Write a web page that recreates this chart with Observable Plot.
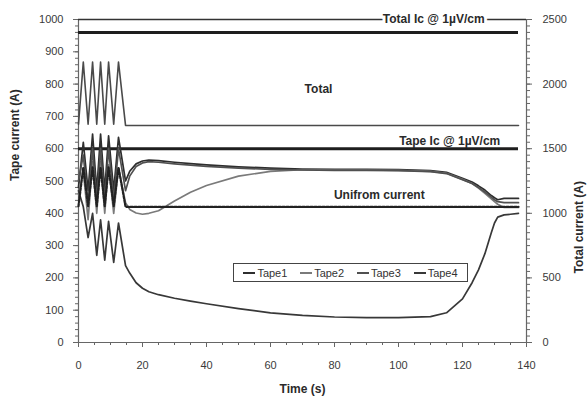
<!DOCTYPE html>
<html>
<head>
<meta charset="utf-8">
<script src="https://cdn.jsdelivr.net/npm/d3@7"></script>
<script src="https://cdn.jsdelivr.net/npm/@observablehq/plot@0.6"></script>
<style>
  html, body { margin: 0; padding: 0; background: #fff; }
  #wrap { position: relative; width: 587px; height: 398px; font-family: "Liberation Sans", Arial, sans-serif; }
  #legend {
    position: absolute; left: 233px; top: 263px; width: 235px; height: 19px;
    border: 1px solid #444; background: #fff; display: flex; align-items: center;
    justify-content: space-around; font-size: 11px; color: #333; box-sizing: border-box; padding: 0 3px;
  }
  #legend span.item { display: flex; align-items: center; }
  #legend span.sw { display: inline-block; width: 12px; height: 0; border-top: 2px solid #333; margin-right: 2px; }
</style>
</head>
<body>
<div id="wrap"></div>
<script>
// Time base (s)
const time = [0, 1.5, 3, 4.4, 5.7, 6.9, 8.2, 9.4, 11, 12.5,
  14.7, 16, 18, 20, 22, 25, 30, 35, 40, 50,
  60, 70, 80, 90, 100, 110, 115, 120, 123, 125,
  127, 129, 130, 131, 133, 135, 137.5];

// Individual tape currents (A, left axis)
const tape1 = [480, 620, 470, 645, 470, 645, 470, 640, 470, 635,
  500, 530, 553, 562, 565, 563, 558, 554, 550, 544,
  540, 537, 536, 536, 535, 532, 527, 508, 497, 485,
  472, 455, 448, 442, 446, 446, 446];
const tape2 = [460, 530, 380, 560, 400, 560, 400, 550, 400, 540,
  433, 412, 401, 397, 400, 408, 438, 465, 486, 515,
  530, 535, 534, 534, 533, 530, 524, 505, 492, 478,
  462, 445, 436, 428, 418, 418, 418];
const tape3 = [500, 580, 430, 600, 440, 600, 440, 600, 440, 600,
  470, 515, 545, 556, 560, 558, 553, 549, 545, 540,
  536, 534, 533, 533, 532, 529, 523, 504, 492, 480,
  466, 450, 442, 436, 433, 433, 433];
const tape4 = [470, 420, 325, 400, 270, 380, 255, 375, 248, 370,
  238, 215, 185, 168, 157, 148, 137, 128, 120, 105,
  92, 84, 79, 77, 77, 80, 92, 135, 185, 225,
  275, 340, 370, 388, 395, 397, 400];

// Total current (A, right axis)
const total = [1690, 2170, 1690, 2170, 1690, 2170, 1690, 2170, 1690, 2170,
  1680, 1680, 1680, 1680, 1680, 1680, 1680, 1680, 1680, 1680,
  1680, 1680, 1680, 1680, 1680, 1680, 1680, 1680, 1680, 1680,
  1680, 1680, 1680, 1680, 1680, 1680, 1680];

// Uniform share of the total per tape (A, left axis)
const uniform = [422, 542, 422, 542, 422, 542, 422, 542, 422, 542,
  420, 420, 420, 420, 420, 420, 420, 420, 420, 420,
  420, 420, 420, 420, 420, 420, 420, 420, 420, 420,
  420, 420, 420, 420, 420, 420, 420];

// Critical currents
const tapeIc = 600;    // A, left axis
const totalIc = 2400;  // A, right axis

// Axis ticks
const xTicks = [0, 20, 40, 60, 80, 100, 120, 140];
const leftTicks = [0, 100, 200, 300, 400, 500, 600, 700, 800, 900, 1000];
const rightTicks = [0, 500, 1000, 1500, 2000, 2500];

const seriesNames = ["Tape1", "Tape2", "Tape3", "Tape4"];
const seriesValues = [tape1, tape2, tape3, tape4];
const seriesColors = ["#2e2e2e", "#7a7a7a", "#505050", "#383838"];

// Right axis maps onto the left scale: 2500 A ↔ 1000 A
const ratio = 2.5;

const rows = seriesNames.flatMap((name, k) =>
  time.map((t, i) => ({name, t, v: seriesValues[k][i]})));
const totalRows = time.map((t, i) => ({t, v: total[i] / ratio}));
const uniformRows = time.map((t, i) => ({t, v: uniform[i]}));
const tEnd = time[time.length - 1];

const notes = [
  {text: "Total Ic @ 1µV/cm", t: 111, v: 1000},
  {text: "Total", t: 75, v: 783},
  {text: "Tape Ic @ 1µV/cm", t: 116, v: 622},
  {text: "Unifrom current", t: 94, v: 455}
];

const plain = d => String(Math.round(d));

const chart = Plot.plot({
  width: 587,
  height: 398,
  marginLeft: 78,
  marginRight: 61,
  marginTop: 19,
  marginBottom: 56,
  x: {domain: [0, 140], label: null},
  y: {domain: [0, 1000], label: null},
  style: {fontFamily: "'Liberation Sans', Arial, sans-serif", fontSize: "11px", color: "#3a3a3a", background: "white"},
  marks: [
    // minor ticks
    Plot.axisX({ticks: d3.range(0, 141, 5), tickSize: 3, text: null, label: null, stroke: "#666"}),
    Plot.axisY({anchor: "left", ticks: d3.range(0, 1001, 20), tickSize: 3, text: null, label: null, stroke: "#666"}),
    Plot.axisY({anchor: "right", ticks: d3.range(0, 1001, 20), tickSize: 3, text: null, label: null, stroke: "#666"}),
    // major ticks and labels
    Plot.axisX({ticks: xTicks, tickSize: 5, tickPadding: 14, tickFormat: plain, label: null, stroke: "#666"}),
    Plot.axisY({anchor: "left", ticks: leftTicks, tickSize: 5, tickPadding: 10, tickFormat: plain, label: null, stroke: "#666"}),
    Plot.axisY({anchor: "right", ticks: rightTicks.map(d => d / ratio), tickFormat: d => plain(d * ratio),
      tickSize: 5, tickPadding: 11, label: null, stroke: "#666"}),
    // frame lines
    Plot.ruleX([0], {stroke: "#666", strokeWidth: 1.2}),
    Plot.ruleX([140], {stroke: "#666", strokeWidth: 1.2}),
    Plot.ruleY([0], {stroke: "#666", strokeWidth: 1.2}),
    Plot.ruleY([1000], {stroke: "#333", strokeWidth: 1.3}),
    // critical current levels
    Plot.ruleY([totalIc / ratio], {x1: 0, x2: tEnd, stroke: "#1e1e1e", strokeWidth: 3}),
    Plot.ruleY([tapeIc], {x1: 0, x2: tEnd, stroke: "#1e1e1e", strokeWidth: 3}),
    // total current
    Plot.line(totalRows, {x: "t", y: "v", stroke: "#4a4a4a", strokeWidth: 1.6}),
    // tape currents
    Plot.line(rows, {x: "t", y: "v", z: "name", stroke: d => seriesColors[seriesNames.indexOf(d.name)], strokeWidth: 1.7}),
    // uniform current
    Plot.line(uniformRows, {x: "t", y: "v", stroke: "#222", strokeWidth: 2.2, strokeDasharray: "2.5,1.5"}),
    // annotations
    Plot.text(notes, {x: "t", y: "v", text: "text", fontWeight: "bold", fontSize: 12, fill: "#2a2a2a",
      stroke: (d, i) => i === 0 ? "white" : "none", strokeWidth: 6, paintOrder: "stroke"}),
    // axis titles
    Plot.text(["Time (s)"], {frameAnchor: "bottom", dy: 50, fontWeight: "bold", fontSize: 12, fill: "#2a2a2a"}),
    Plot.text(["Tape current (A)"], {frameAnchor: "left", dx: -63, rotate: -90, fontWeight: "bold", fontSize: 12, fill: "#2a2a2a"}),
    Plot.text(["Total current (A)"], {frameAnchor: "right", dx: 53, rotate: -90, fontWeight: "bold", fontSize: 12, fill: "#2a2a2a"})
  ]
});

const wrap = document.getElementById("wrap");
wrap.appendChild(chart);

// Series legend inside the plot area
const legend = document.createElement("div");
legend.id = "legend";
seriesNames.forEach((name, k) => {
  const item = document.createElement("span");
  item.className = "item";
  const sw = document.createElement("span");
  sw.className = "sw";
  sw.style.borderTopColor = seriesColors[k];
  item.appendChild(sw);
  item.appendChild(document.createTextNode(name));
  legend.appendChild(item);
});
wrap.appendChild(legend);
</script>
</body>
</html>
